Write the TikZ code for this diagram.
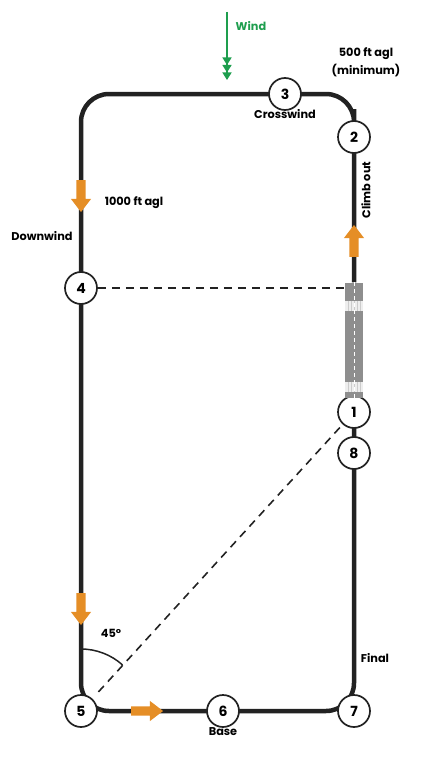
\documentclass[tikz,border=0pt]{standalone}
\usepackage{fontspec}
\setmainfont{Poppins}
\usetikzlibrary{arrows.meta,backgrounds,shapes.arrows}
\definecolor{ink}{HTML}{222222}
\definecolor{amber}{HTML}{E58E26}
\definecolor{leaf}{HTML}{1E9E4E}
\definecolor{tarmac}{HTML}{8E8E8E}

\begin{document}
\begin{tikzpicture}[x=1pt,y=1pt,font=\bfseries\fontsize{11.3}{13}\selectfont,
    leg/.style={circle,draw=ink,line width=1.7pt,fill=white,minimum size=32pt,
                inner sep=0pt,font=\bfseries\fontsize{14}{14}\selectfont},
    track/.style={draw=ink,line width=4.5pt,rounded corners=28pt},
    heading/.style={single arrow,fill=amber,minimum height=32pt,minimum width=20pt,
                    inner sep=4.5pt,outer sep=0pt,single arrow tip angle=75,
                    single arrow head extend=5.5pt},
    guide/.style={draw=ink,line width=1.6pt,dash pattern=on 8pt off 6pt},
    strip/.style={fill=tarmac,minimum width=18pt,minimum height=115pt,inner sep=0pt}]
  \useasboundingbox (0,0) rectangle (422,-760);
  \node[leg] (n1) at (354,-412) {1};
  \node[leg] (n2) at (354,-137) {2};
  \node[leg] (n3) at (285,-94) {3};
  \node[leg] (n4) at (81,-288) {4};
  \node[leg] (n5) at (81,-711) {5};
  \node[leg] (n6) at (223,-711) {6};
  \node[leg] (n7) at (354,-711) {7};
  \node[leg] (n8) at (354,-453) {8};
  \node[strip] (rwy) at (354,-340) {};
  \foreach \yy in {19,100} {
    \fill[white!85!tarmac] ([yshift=-\yy pt]rwy.north west) rectangle ++(18,-10);
    \foreach \xx in {3,6,...,15}
      \draw[white!55!tarmac,line width=0.4pt] ([xshift=\xx pt,yshift=-\yy pt]rwy.north west) -- ++(0,-10);
  }
  \draw[white,line width=0.8pt,dash pattern=on 4pt off 3pt] (rwy.north) -- (rwy.south);
  \begin{scope}[on background layer]
    \draw[track] (n1.center) -- (n8.center) |- (n5.center) |- (n3.center) -| (n2.center) -- (rwy.north);
  \end{scope}
  \draw[guide] (n4) -- (n4 -| rwy.west);
  \draw[guide,shorten <=9pt] (n5) -- (n1);
  \draw[ink,line width=1.5pt] (n5.center) ++(90:62) arc[start angle=90,end angle=48,radius=62];
  \node[heading,rotate=-90] (hd1) at (81,-193) {};
  \node[heading,rotate=90] (hd2) at (354,-244) {};
  \node[heading,rotate=-90] (hd3) at (81,-606) {};
  \node[heading] (hd4) at (144,-711) {};
  \coordinate (windtop) at (227,-12);
  \coordinate (windtip) at (227,-80);
  \draw[leaf,line width=1.4pt,-{Triangle[width=9pt,length=7.5pt] Triangle[width=9pt,length=7.5pt] Triangle[width=9pt,length=7.5pt]}]
    (windtop) -- (windtip);
  \node[text=leaf] (windlbl) at (251,-26) {Wind};
  \node[align=center,font=\bfseries\fontsize{11.3}{18}\selectfont] (minalt) at (366,-62) {500 ft agl\\(minimum)};
  \node (cross) at (285,-114) {Crosswind};
  \node[rotate=90] (climb) at (366,-190) {Climb out};
  \node (alt) at (134,-203) {1000 ft agl};
  \node (down) at (42,-236) {Downwind};
  \node (angle) at (111,-633) {45°};
  \node (final) at (375,-658) {Final};
  \node (base) at (223,-732) {Base};
\end{tikzpicture}
\end{document}
